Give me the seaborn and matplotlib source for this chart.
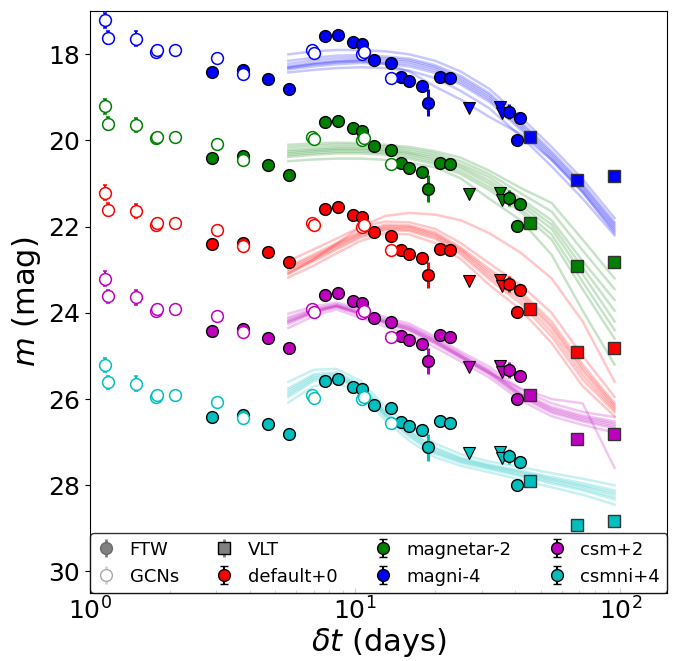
import numpy as np
import pandas as pd
import matplotlib
matplotlib.use("Agg")
import matplotlib.pyplot as plt
import seaborn as sns

# photometry in the unshifted (default+0) frame
ftw_t = [2.89, 3.76, 4.71, 5.62, 7.72, 8.60, 9.83, 10.63, 11.78, 13.70, 14.86,
         15.99, 17.81, 18.86, 20.94, 22.79, 38.0, 41.9, 40.9]
ftw_mag = [22.41, 22.37, 22.58, 22.81, 21.58, 21.54, 21.72, 21.77, 22.13, 22.21, 22.53,
           22.63, 22.73, 23.12, 22.52, 22.55, 23.33, 23.47, 23.99]
ftw_err = [0.04, 0.04, 0.04, 0.08, 0.04, 0.04, 0.04, 0.04, 0.04, 0.04, 0.04,
           0.04, 0.04, 0.31, 0.04, 0.04, 0.18, 0.04, 0.08]

ul_t = [26.84, 35.07, 35.8]
ul_mag = [23.25, 23.23, 23.37]

gcn_t = [1.14, 1.17, 1.49, 1.78, 1.79, 2.09, 3.02, 3.76, 6.87, 6.97, 10.63, 10.77, 13.70]
gcn_mag = [21.21, 21.61, 21.64, 21.95, 21.91, 21.91, 22.08, 22.45, 21.91, 21.97, 22.00, 21.95, 22.55]
gcn_err = [0.17, 0.15, 0.17, 0, 0, 0, 0, 0, 0, 0, 0, 0, 0]

vlt_t = [45.7, 68.7, 94.9]
vlt_mag = [23.91, 24.92, 24.82]

# model groups
labels = ["default+0", "magnetar-2", "magni-4", "csm+2", "csmni+4"]
offsets = [0, -2, -4, 2, 4]
colors = ["r", "g", "b", "m", "c"]

# model light curves (unshifted), read at these epochs
model_t = [5.6, 7, 8.5, 10.5, 13, 16, 20, 25, 32, 42, 55, 72, 95]

default_curves = [
    [22.80, 22.52, 22.28, 22.00, 21.88, 21.90, 22.05, 22.38, 22.85, 23.35, 24.00, 25.00, 25.95],
    [22.92, 22.64, 22.38, 22.10, 21.95, 21.97, 22.13, 22.48, 22.98, 23.50, 24.20, 25.20, 26.10],
    [22.96, 22.68, 22.42, 22.14, 21.99, 22.00, 22.17, 22.52, 23.04, 23.56, 24.28, 25.28, 26.15],
    [23.00, 22.72, 22.45, 22.17, 22.02, 22.03, 22.20, 22.55, 23.10, 23.62, 24.35, 25.35, 26.20],
    [23.04, 22.76, 22.49, 22.21, 22.05, 22.07, 22.24, 22.60, 23.16, 23.70, 24.45, 25.45, 26.25],
    [23.08, 22.80, 22.53, 22.25, 22.08, 22.10, 22.28, 22.65, 23.22, 23.78, 24.55, 25.55, 26.30],
    [23.18, 22.90, 22.62, 22.33, 22.15, 22.18, 22.38, 22.75, 23.35, 23.92, 24.70, 25.70, 26.40],
    [23.10, 22.75, 22.40, 22.00, 21.75, 21.68, 21.72, 21.85, 22.15, 22.60, 23.20, 24.20, 25.60],
]
magnetar_curves = [
    [22.10, 22.07, 22.05, 22.06, 22.10, 22.15, 22.25, 22.40, 22.70, 23.10, 23.45, 24.30, 25.20],
    [22.16, 22.12, 22.10, 22.10, 22.14, 22.20, 22.30, 22.48, 22.78, 23.22, 23.65, 24.55, 25.45],
    [22.22, 22.18, 22.15, 22.15, 22.18, 22.25, 22.35, 22.55, 22.85, 23.35, 23.85, 24.80, 25.70],
    [22.26, 22.22, 22.19, 22.19, 22.22, 22.29, 22.40, 22.60, 22.93, 23.42, 23.95, 24.95, 25.95],
    [22.30, 22.25, 22.22, 22.22, 22.25, 22.32, 22.45, 22.65, 23.00, 23.50, 24.05, 25.10, 26.20],
    [22.34, 22.29, 22.26, 22.26, 22.29, 22.37, 22.50, 22.72, 23.08, 23.58, 24.18, 25.28, 26.40],
    [22.38, 22.33, 22.30, 22.30, 22.33, 22.42, 22.55, 22.78, 23.15, 23.65, 24.30, 25.45, 26.60],
    [22.48, 22.44, 22.42, 22.42, 22.45, 22.52, 22.62, 22.88, 23.35, 23.85, 24.65, 25.95, 27.20],
]
magni_curves = [
    [22.00, 21.93, 21.90, 21.90, 21.93, 22.00, 22.15, 22.40, 22.80, 23.45, 24.15, 24.90, 25.80],
    [22.15, 22.08, 22.03, 22.02, 22.05, 22.10, 22.25, 22.50, 22.90, 23.55, 24.25, 25.00, 25.90],
    [22.22, 22.14, 22.09, 22.07, 22.09, 22.14, 22.29, 22.55, 22.95, 23.60, 24.30, 25.05, 25.95],
    [22.28, 22.20, 22.15, 22.12, 22.13, 22.18, 22.33, 22.60, 23.00, 23.65, 24.35, 25.10, 26.00],
    [22.32, 22.24, 22.19, 22.16, 22.18, 22.23, 22.38, 22.65, 23.05, 23.70, 24.40, 25.15, 26.05],
    [22.35, 22.28, 22.23, 22.20, 22.22, 22.28, 22.43, 22.70, 23.10, 23.75, 24.45, 25.20, 26.10],
    [22.42, 22.36, 22.32, 22.30, 22.32, 22.38, 22.55, 22.85, 23.25, 23.90, 24.60, 25.35, 26.20],
    [22.30, 22.22, 22.17, 22.15, 22.22, 22.40, 22.75, 23.05, 23.45, 23.85, 24.45, 25.20, 26.15],
]
csm_curves = [
    [22.02, 21.85, 21.76, 21.90, 22.10, 22.25, 22.55, 22.90, 23.25, 23.78, 24.10, 24.30, 24.42],
    [22.10, 21.90, 21.80, 21.95, 22.15, 22.30, 22.60, 22.95, 23.32, 23.85, 24.18, 24.38, 24.52],
    [22.14, 21.93, 21.82, 21.98, 22.18, 22.33, 22.63, 22.98, 23.35, 23.88, 24.22, 24.42, 24.56],
    [22.18, 21.95, 21.83, 22.00, 22.20, 22.35, 22.65, 23.00, 23.37, 23.90, 24.25, 24.45, 24.60],
    [22.22, 21.98, 21.85, 22.03, 22.23, 22.39, 22.69, 23.03, 23.40, 23.93, 24.29, 24.49, 24.64],
    [22.26, 22.00, 21.87, 22.05, 22.25, 22.42, 22.72, 23.06, 23.43, 23.96, 24.32, 24.52, 24.68],
    [22.35, 22.07, 21.92, 22.12, 22.32, 22.50, 22.80, 23.13, 23.50, 24.03, 24.40, 24.60, 24.78],
    [22.20, 21.97, 21.85, 22.02, 22.22, 22.38, 22.68, 23.02, 23.40, 23.75, 24.00, 24.10, 25.60],
]
csmni_curves = [
    [21.60, 21.32, 21.30, 21.58, 22.18, 22.63, 23.03, 23.28, 23.45, 23.58, 23.72, 23.85, 24.00],
    [21.75, 21.42, 21.38, 21.65, 22.28, 22.72, 23.12, 23.36, 23.52, 23.66, 23.81, 23.95, 24.12],
    [21.80, 21.46, 21.42, 21.69, 22.32, 22.76, 23.16, 23.39, 23.55, 23.69, 23.85, 24.00, 24.17],
    [21.85, 21.50, 21.45, 21.72, 22.35, 22.80, 23.20, 23.42, 23.57, 23.72, 23.88, 24.03, 24.22],
    [21.90, 21.54, 21.49, 21.75, 22.39, 22.84, 23.24, 23.45, 23.60, 23.76, 23.92, 24.08, 24.28],
    [21.95, 21.58, 21.52, 21.78, 22.42, 22.88, 23.27, 23.48, 23.63, 23.79, 23.96, 24.12, 24.33],
    [22.08, 21.70, 21.62, 21.86, 22.50, 22.97, 23.35, 23.55, 23.70, 23.87, 24.05, 24.22, 24.45],
]
model_curves = [default_curves, magnetar_curves, magni_curves, csm_curves, csmni_curves]

fig, ax = plt.subplots(figsize=(6.76, 6.61), dpi=100)
fig.subplots_adjust(left=0.133, right=0.987, top=0.983, bottom=0.103)
ax.set_xscale("log")

for curves, off, col in zip(model_curves, offsets, colors):
    rows = []
    for k, c in enumerate(curves):
        for t, m in zip(model_t, c):
            rows.append({"t": t, "mag": m + off, "curve": k})
    df = pd.DataFrame(rows)
    sns.lineplot(data=df, x="t", y="mag", units="curve", estimator=None,
                 color=col, alpha=0.22, lw=1.8, ax=ax, legend=False, zorder=1)

for off, col in zip(offsets, colors):
    ax.errorbar(ftw_t, np.array(ftw_mag) + off, yerr=ftw_err, fmt="o", ms=8.5,
                mfc=col, mec="k", mew=1, ecolor=col, elinewidth=2.2, capsize=0, zorder=4)
    ax.errorbar(gcn_t, np.array(gcn_mag) + off, yerr=gcn_err, fmt="o", ms=8.5,
                mfc="white", mec=col, mew=1.1, ecolor=col, elinewidth=1.5,
                capsize=1.5, capthick=2, zorder=5)
    ax.plot(ul_t, np.array(ul_mag) + off, "v", ms=8.5, color=col, mec="k", mew=0.8, zorder=4)
    ax.plot(vlt_t, np.array(vlt_mag) + off, "s", ms=8.5, color=col, mec="#333333", mew=1, zorder=4)

# legend proxies
handles = []
handles.append(ax.errorbar([np.nan], [np.nan], yerr=[0.5], fmt="o", ms=8.5, mfc="gray",
                           mec="dimgray", ecolor="gray", elinewidth=2, label="FTW"))
handles.append(ax.errorbar([np.nan], [np.nan], yerr=[0.5], fmt="o", ms=8.5, mfc="white",
                           mec="darkgray", ecolor="lightgray", elinewidth=2, label="GCNs"))
handles.append(ax.errorbar([np.nan], [np.nan], yerr=[0.5], fmt="s", ms=8.5, mfc="gray",
                           mec="k", ecolor="gray", elinewidth=2, label="VLT"))
for lab, col in zip(labels, colors):
    handles.append(ax.errorbar([np.nan], [np.nan], yerr=[0.5], fmt="o", ms=8.5, mfc=col,
                               mec="k", ecolor="k", elinewidth=1.5, capsize=3, label=lab))
ax.legend(handles=handles, ncol=4, loc="lower left",
          bbox_to_anchor=(0, 0, 1, 0.1), mode="expand", borderaxespad=0,
          fontsize=13, edgecolor="k", handlelength=1.0)

ax.set_xlim(1, 150)
ax.set_ylim(30.5, 17.0)
ax.set_yticks([18, 20, 22, 24, 26, 28, 30])
ax.tick_params(axis="x", which="both", direction="in", labelsize=18)
ax.tick_params(axis="y", labelsize=18)
ax.set_xlabel(r"$\delta t$ (days)", fontsize=22, labelpad=1)
ax.set_ylabel(r"$m$ (mag)", fontsize=22)

fig.savefig("out.png", dpi=100)
